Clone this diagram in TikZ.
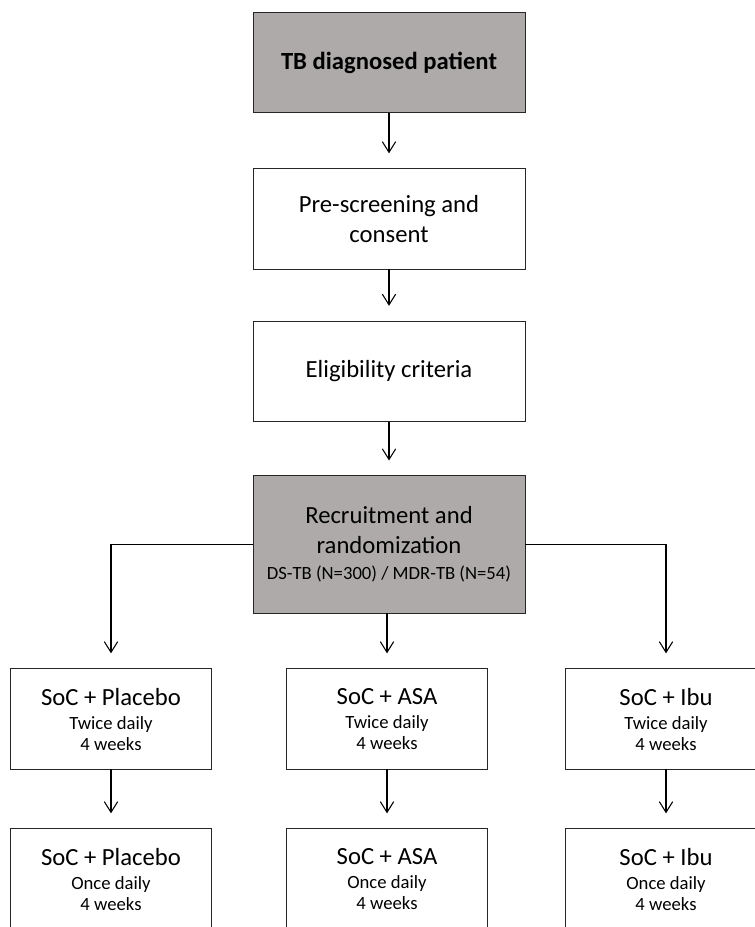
\documentclass[tikz,border=0pt]{standalone}
\usepackage{fontspec}
\setmainfont{Carlito}
\usetikzlibrary{arrows.meta}
\definecolor{boxgray}{HTML}{AEAAAA}
\tikzset{
  stage/.style = {
    draw=black!85, line width=0.6pt, align=center, inner sep=0pt, outer sep=0pt,
    minimum width=204pt, minimum height=75.5pt,
    font=\fontsize{18.5}{22.5}\selectfont
  },
  shaded/.style = {stage, fill=boxgray},
  arm/.style = {stage, minimum width=151pt},
  flow/.style = {->, line width=0.8pt, shorten >=11.5pt}
}
\tikzset{>={Straight Barb[length=8pt,width=10pt]}}
\newcommand{\smalltxt}[1]{{\fontsize{14}{16}\selectfont #1}}

\begin{document}
\begin{tikzpicture}[x=0.75pt,y=-0.75pt]
  \useasboundingbox (0,0) rectangle (755,927);
  \clip (0,0) rectangle (755,927);
  % main column
  \node[shaded] (patient) at (389,62.5) {\textbf{TB diagnosed patient}};
  \node[stage] (screen) at (389,219) {Pre-screening and\\consent};
  \node[stage] (elig) at (389,371.5) {Eligibility criteria};
  \node[shaded, minimum height=103pt] (rand) at (389,544.5)
    {Recruitment and\\randomization\\[-3pt]\smalltxt{DS-TB (N=300) / MDR-TB (N=54)}};
  % treatment arms
  \node[arm] (plaA) at (111,719) {SoC + Placebo\\[-4.5pt]\smalltxt{Twice daily}\\[-6.75pt]\smalltxt{4 weeks}};
  \node[arm] (asaA) at (387,719) {SoC + ASA\\[-4.5pt]\smalltxt{Twice daily}\\[-6.75pt]\smalltxt{4 weeks}};
  \node[arm] (ibuA) at (666,719) {SoC + Ibu\\[-4.5pt]\smalltxt{Twice daily}\\[-6.75pt]\smalltxt{4 weeks}};
  \node[arm] (plaB) at (111,879) {SoC + Placebo\\[-4.5pt]\smalltxt{Once daily}\\[-6.75pt]\smalltxt{4 weeks}};
  \node[arm] (asaB) at (387,879) {SoC + ASA\\[-4.5pt]\smalltxt{Once daily}\\[-6.75pt]\smalltxt{4 weeks}};
  \node[arm] (ibuB) at (666,879) {SoC + Ibu\\[-4.5pt]\smalltxt{Once daily}\\[-6.75pt]\smalltxt{4 weeks}};
  % connectors
  \draw[flow] (patient) -- (screen);
  \draw[flow] (screen) -- (elig);
  \draw[flow] (elig) -- (rand);
  \draw[flow] (rand.west) -| (plaA.north);
  \draw[flow] (rand.south -| asaA.north) -- (asaA.north);
  \draw[flow] (rand.east) -| (ibuA.north);
  \draw[flow] (plaA) -- (plaB);
  \draw[flow] (asaA) -- (asaB);
  \draw[flow] (ibuA) -- (ibuB);
\end{tikzpicture}
\end{document}
